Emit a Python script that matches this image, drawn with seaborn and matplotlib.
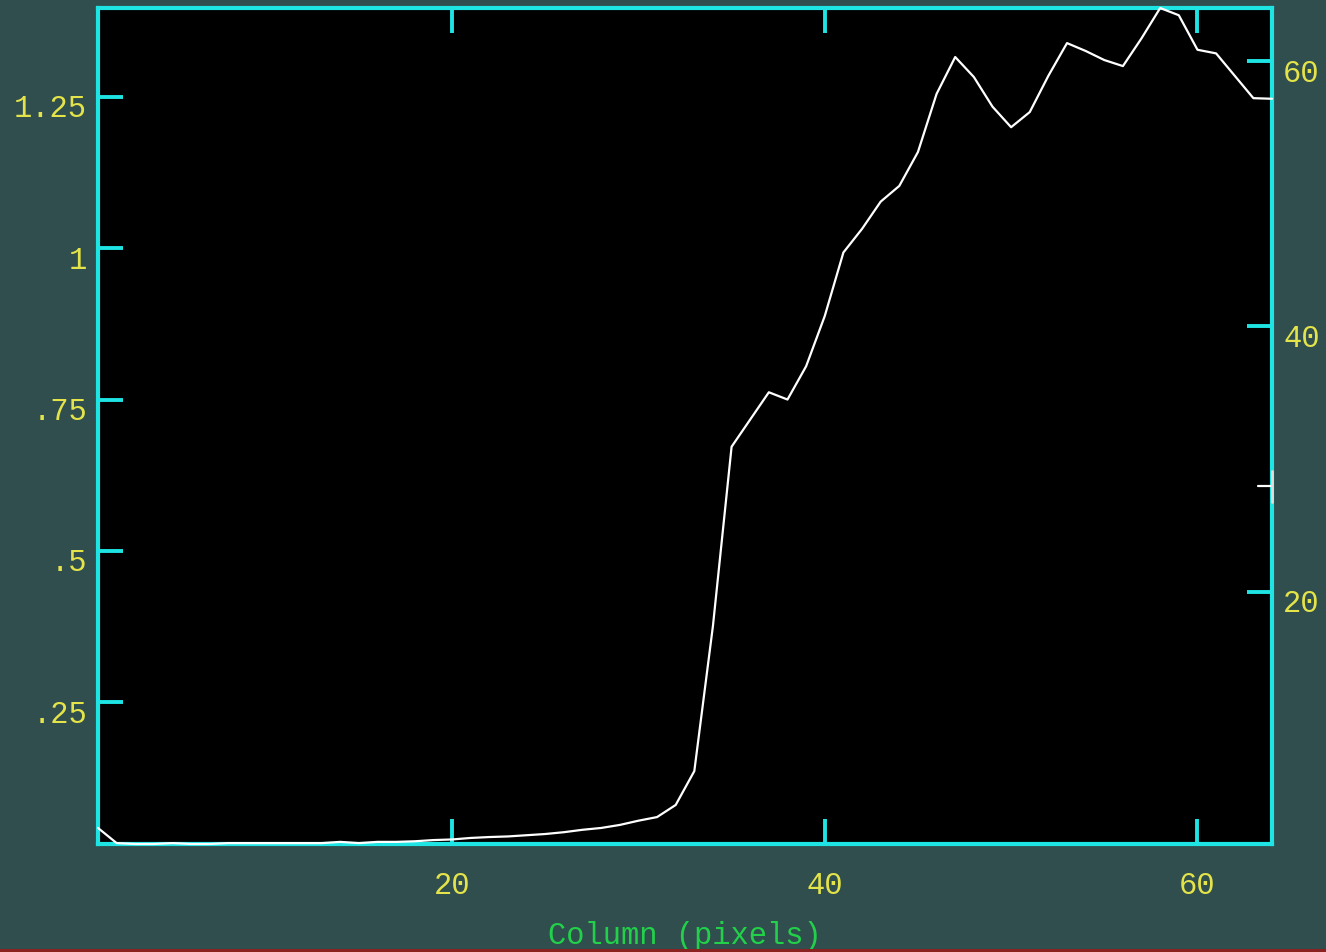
import numpy as np
import matplotlib
matplotlib.use("Agg")
import matplotlib.pyplot as plt
import matplotlib.transforms as mtransforms
from matplotlib.patches import Rectangle
import seaborn as sns

# Column profile: mean flux per pixel column
columns = np.arange(1, 65)
flux = [
    0.042, 0.017, 0.0155, 0.0155, 0.017, 0.0155, 0.0155, 0.017,
    0.017, 0.017, 0.017, 0.017, 0.017, 0.019, 0.017, 0.019,
    0.019, 0.020, 0.022, 0.023, 0.0255, 0.027, 0.028, 0.030,
    0.032, 0.035, 0.039, 0.042, 0.047, 0.054, 0.060, 0.080,
    0.136, 0.376, 0.672, 0.717, 0.762, 0.750, 0.805, 0.888,
    0.993, 1.032, 1.077, 1.103, 1.159, 1.255, 1.316, 1.283,
    1.234, 1.200, 1.225, 1.285, 1.339, 1.326, 1.311, 1.301,
    1.347, 1.397, 1.385, 1.328, 1.322, 1.285, 1.248, 1.247,
]

x_ticks = [20, 40, 60]
x_ticklabels = ["20", "40", "60"]
left_ticks = [0.25, 0.5, 0.75, 1.0, 1.25]
left_ticklabels = [".25", ".5", ".75", "1", "1.25"]
right_ticks = [20, 40, 60]
right_ticklabels = ["20", "40", "60"]
row_range = (1, 64)
cursor_row = 28
x_label = "Column (pixels)"

BG = "#2f4e4d"
CYAN = "#1ee4e4"
YELLOW = "#e4e44a"
GREEN = "#22d04a"
FS = 22

sns.set_style("dark", {"axes.facecolor": "black", "figure.facecolor": BG})
plt.rcParams["font.family"] = ["Liberation Mono", "DejaVu Sans Mono"]

fig = plt.figure(figsize=(13.26, 9.53), dpi=100)
fig.patch.set_facecolor(BG)
ax = fig.add_axes([98 / 1326, 1 - 845 / 953, (1272 - 98) / 1326, (845 - 9) / 953])
ax.set_facecolor("black")

df_profile = {"column": columns, "flux": flux}
sns.lineplot(data=df_profile, x="column", y="flux", ax=ax, color="white",
             linewidth=1.6, zorder=4)
for ln in ax.lines:
    ln.set_clip_on(False)

ax.set_xlim(1, 64)
ax.set_ylim(min(flux), max(flux))
ax.grid(False)

ax.set_xticks(x_ticks)
ax.set_xticklabels(x_ticklabels)
ax.set_yticks(left_ticks)
ax.set_yticklabels(left_ticklabels)

tick_len = 18
tick_w = 2.8
ax.tick_params(axis="x", which="both", direction="in", length=tick_len, width=tick_w,
               color=CYAN, top=True, bottom=True, labelcolor=YELLOW,
               labelsize=FS, pad=19)
ax.tick_params(axis="y", which="both", direction="in", length=tick_len, width=tick_w,
               color=CYAN, left=True, right=False, labelcolor=YELLOW,
               labelsize=FS, pad=8)
ax.set_xlabel(x_label, color=GREEN, fontsize=FS, labelpad=14)
ax.set_ylabel("")

for sp in ax.spines.values():
    sp.set_visible(True)
    sp.set_color(CYAN)
    sp.set_linewidth(3)

# Right-hand axis in rows
ax2 = ax.twinx()
ax2.set_ylim(*row_range)
ax2.set_yticks(right_ticks)
ax2.set_yticklabels(right_ticklabels)
ax2.tick_params(axis="y", direction="in", length=tick_len, width=tick_w,
                color=CYAN, right=True, left=False, labelcolor=YELLOW,
                labelsize=FS, pad=8)
ax2.grid(False)
for sp in ax2.spines.values():
    sp.set_visible(False)

# Row cursor marker on the right edge
ax2.plot([63.25, 64], [cursor_row, cursor_row], color="white", lw=1.6,
         clip_on=False, zorder=5)
ax2.plot([64, 64], [cursor_row - 1.25, cursor_row + 1.1], color="#dddddd", lw=2,
         clip_on=False, zorder=5)

# Nudge y tick labels slightly below their ticks
shift = mtransforms.ScaledTranslation(0, -8 / 100, fig.dpi_scale_trans)
for lab in ax.get_yticklabels() + ax2.get_yticklabels():
    lab.set_transform(lab.get_transform() + shift)

# Thin red strip along the bottom edge
fig.patches.append(Rectangle((0, 0), 1, 3.5 / 953, transform=fig.transFigure,
                             facecolor="#8a2222", edgecolor="none", zorder=10))

fig.savefig("out.png", dpi=100, facecolor=BG)
